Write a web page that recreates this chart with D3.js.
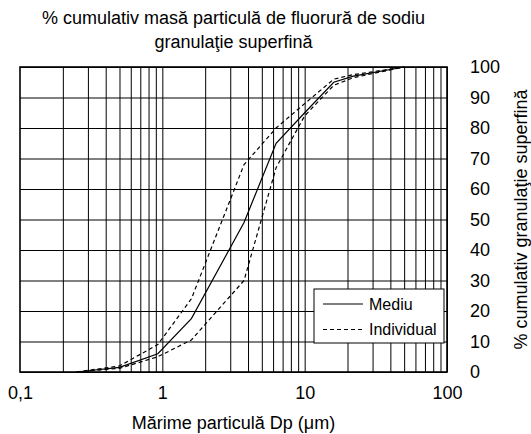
<!DOCTYPE html>
<html>
<head>
<meta charset="utf-8">
<script src="https://cdn.jsdelivr.net/npm/d3@7"></script>
<style>
  html, body { margin: 0; padding: 0; background: #fff; }
  svg { display: block; font-family: Arial, "Liberation Sans", sans-serif; }
</style>
</head>
<body>
<svg id="chart" width="531" height="434"></svg>
<script>
// Particle diameters (µm) at which the cumulative mass fractions were measured
const diameters = [0.25, 0.5, 0.93, 1.6, 3.75, 6.3, 10, 16, 22, 50];
// Cumulative mass % — mean curve and the two individual envelope curves
const mediu      = [0, 1.5, 6, 17.5, 49, 75, 85, 95, 97, 100];
const indivSus   = [0, 2, 9, 24, 68, 80, 88, 96, 97.5, 100];
const indivJos   = [0, 1.2, 5, 10.5, 30, 67, 84, 94, 96.5, 100];

const xTicks = [0.1, 1, 10, 100];
const yTicks = [0, 10, 20, 30, 40, 50, 60, 70, 80, 90, 100];

const titleLines = ["% cumulativ masă particulă de fluorură de sodiu", "granulaţie superfină"];
const xTitle = "Mărime particulă Dp (μm)";
const yTitle = "% cumulativ granulaţie superfină";
const legendLabels = ["Mediu", "Individual"];

const FONT = "Arial, 'Liberation Sans', sans-serif";
const margin = { left: 20, top: 67, right: 84, bottom: 62 };
const W = 531, H = 434;
const w = W - margin.left - margin.right;
const h = H - margin.top - margin.bottom;

const svg = d3.select("#chart");
const g = svg.append("g").attr("transform", `translate(${margin.left},${margin.top})`);

const x = d3.scaleLog().domain([0.1, 100]).range([0, w]);
const y = d3.scaleLinear().domain([0, 100]).range([h, 0]);

// minor + major log grid (1..9 in each decade)
const xGridVals = [];
for (let d = 0.1; d < 100; d *= 10) {
  for (let k = 2; k <= 9; k++) xGridVals.push(+(d * k).toPrecision(3));
  xGridVals.push(+(d * 10).toPrecision(3));
}

g.append("g")
  .attr("class", "xgrid")
  .attr("transform", `translate(0,${h})`)
  .call(d3.axisBottom(x).tickValues(xGridVals).tickSize(-h).tickFormat(""))
  .call(s => s.select(".domain").remove())
  .call(s => s.selectAll("line").attr("stroke", "#000").attr("stroke-width", 1));

g.append("g")
  .attr("class", "ygrid")
  .call(d3.axisLeft(y).tickValues(yTicks).tickSize(-w).tickFormat(""))
  .call(s => s.select(".domain").remove())
  .call(s => s.selectAll("line").attr("stroke", "#000").attr("stroke-width", 1));

// data curves
const line = d3.line()
  .x(d => x(d[0]))
  .y(d => y(d[1]));

const series = [
  { values: indivSus, dash: "4,3" },
  { values: indivJos, dash: "4,3" },
  { values: mediu, dash: null }
];
series.forEach(s => {
  g.append("path")
    .datum(diameters.map((d, i) => [d, s.values[i]]))
    .attr("fill", "none")
    .attr("stroke", "#000")
    .attr("stroke-width", 1.2)
    .attr("stroke-dasharray", s.dash)
    .attr("d", line);
});

// plot frame
g.append("rect")
  .attr("width", w).attr("height", h)
  .attr("fill", "none").attr("stroke", "#000").attr("stroke-width", 1.6);

// x tick labels
g.append("g")
  .attr("transform", `translate(0,${h})`)
  .call(d3.axisBottom(x).tickValues(xTicks).tickSize(0).tickPadding(14)
    .tickFormat(d => String(d).replace(".", ",")))
  .call(s => s.select(".domain").remove())
  .call(s => s.selectAll("text").attr("font-size", 18).attr("fill", "#000")
    .attr("font-family", FONT));

// y tick labels on the right
g.append("g")
  .attr("transform", `translate(${w},0)`)
  .call(d3.axisRight(y).tickValues(yTicks).tickSize(0).tickPadding(23))
  .call(s => s.select(".domain").remove())
  .call(s => s.selectAll("text").attr("font-size", 18).attr("fill", "#000")
    .attr("font-family", FONT));

// title
svg.append("text")
  .attr("x", margin.left + w / 2).attr("y", 24)
  .attr("text-anchor", "middle").attr("font-size", 18)
  .selectAll("tspan").data(titleLines).join("tspan")
  .attr("x", margin.left + w / 2)
  .attr("dy", (d, i) => i === 0 ? 0 : 24)
  .text(d => d);

// axis titles
svg.append("text")
  .attr("x", margin.left + w / 2).attr("y", 429)
  .attr("text-anchor", "middle").attr("font-size", 18)
  .text(xTitle);

svg.append("text")
  .attr("transform", `translate(526.5,${margin.top + h / 2}) rotate(-90)`)
  .attr("text-anchor", "middle").attr("font-size", 18)
  .text(yTitle);

// legend
const leg = svg.append("g").attr("transform", "translate(314,289)");
leg.append("rect").attr("width", 130).attr("height", 54)
  .attr("fill", "#fff").attr("stroke", "#000").attr("stroke-width", 1);
legendLabels.forEach((lab, i) => {
  const ly = 15 + i * 25.5;
  leg.append("line")
    .attr("x1", 9).attr("x2", 49).attr("y1", ly).attr("y2", ly)
    .attr("stroke", "#000").attr("stroke-width", 1.2)
    .attr("stroke-dasharray", i === 1 ? "4,3" : null);
  leg.append("text")
    .attr("x", 55).attr("y", ly).attr("dy", "0.35em")
    .attr("font-size", 16).text(lab);
});
</script>
</body>
</html>
